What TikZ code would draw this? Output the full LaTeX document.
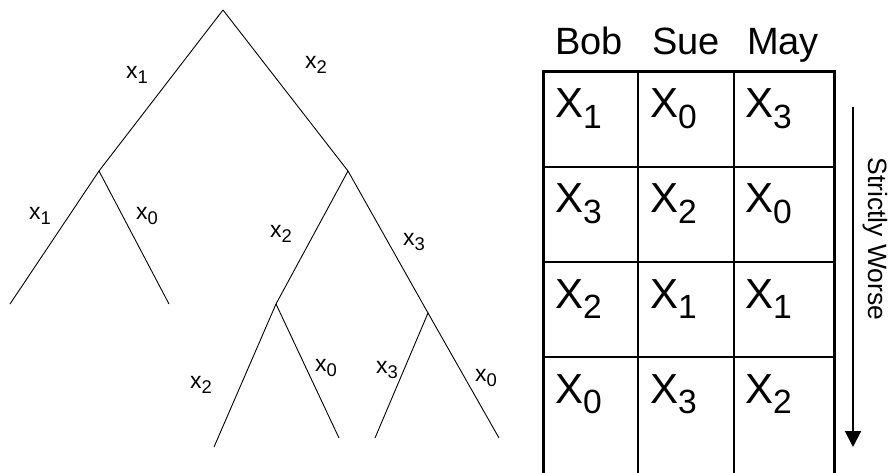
\documentclass[tikz,border=0pt]{standalone}
\usepackage{fontspec}
\setmainfont{Liberation Sans}
\usepackage{tikz}
\usetikzlibrary{arrows.meta}
\newcommand{\sbx}[1]{\raisebox{-0.25em}{\scalebox{0.8}{#1}}}

\begin{document}
\begin{tikzpicture}[x=1pt, y=-1pt,
  branch/.style={line width=0.9pt},
  edgelab/.style={font=\fontsize{23}{23}\selectfont, inner sep=0pt},
  cellval/.style={font=\fontsize{42}{42}\selectfont, anchor=base west, inner sep=0pt},
  colhead/.style={font=\fontsize{38}{38}\selectfont, anchor=base, inner sep=0pt}]
  \useasboundingbox (0,0) rectangle (889,473);
  % the tree
  \coordinate (r) at (223,10);
  \coordinate (a) at (99,171);
  \coordinate (b) at (348,171);
  \coordinate (a1) at (10,304);
  \coordinate (a2) at (169,304);
  \coordinate (c) at (276,304);
  \coordinate (d) at (428,313);
  \coordinate (c1) at (214,447);
  \coordinate (c2) at (339,438);
  \coordinate (d1) at (375,438);
  \coordinate (d2) at (499,438);
  \foreach \u/\v in {r/a, r/b, a/a1, a/a2, b/c, b/d, c/c1, c/c2, d/d1, d/d2}
    \draw[branch] (\u) -- (\v);
  \foreach \n/\p/\s in {ra/{137,75}/1, rb/{316,65}/2, aa/{40,216}/1, ab/{147,216}/0,
      bc/{281,234}/2, bd/{414,242}/3, ca/{201,385}/2, cb/{326,368}/0,
      da/{387,370}/3, db/{486,378}/0}
    \node[edgelab] (lab-\n) at (\p) {x\sbx{\s}};

  % preference table
  \node[colhead] (bob) at (589,55) {Bob};
  \node[colhead] (sue) at (686,55) {Sue};
  \node[colhead] (may) at (783,55) {May};
  \foreach \y in {167,262,357}
    \draw[line width=1.5pt] (543,\y) -- (834,\y);
  \foreach \x in {638,734}
    \draw[line width=1.5pt] (\x,72) -- (\x,473);
  \draw[line width=3pt] (543,473) -- (543,72) -- (834,72) -- (834,473);
  \foreach \r/\a/\b/\c in {0/1/0/3, 1/3/2/0, 2/2/1/1, 3/0/3/2}{
    \node[cellval] (bob-\r) at (555,118+95*\r) {X\sbx{\a}};
    \node[cellval] (sue-\r) at (650,118+95*\r) {X\sbx{\b}};
    \node[cellval] (may-\r) at (745,118+95*\r) {X\sbx{\c}};
  }
  \coordinate (best) at (853,107);
  \coordinate (worst) at (853,447);
  \draw[-{Triangle[width=16pt,length=16pt]}, line width=2pt] (best) -- (worst);
  \node[rotate=-90, anchor=north, inner sep=0pt, font=\fontsize{26.5}{26.5}\selectfont]
    (worse) at (888,239) {Strictly Worse};
\end{tikzpicture}
\end{document}
